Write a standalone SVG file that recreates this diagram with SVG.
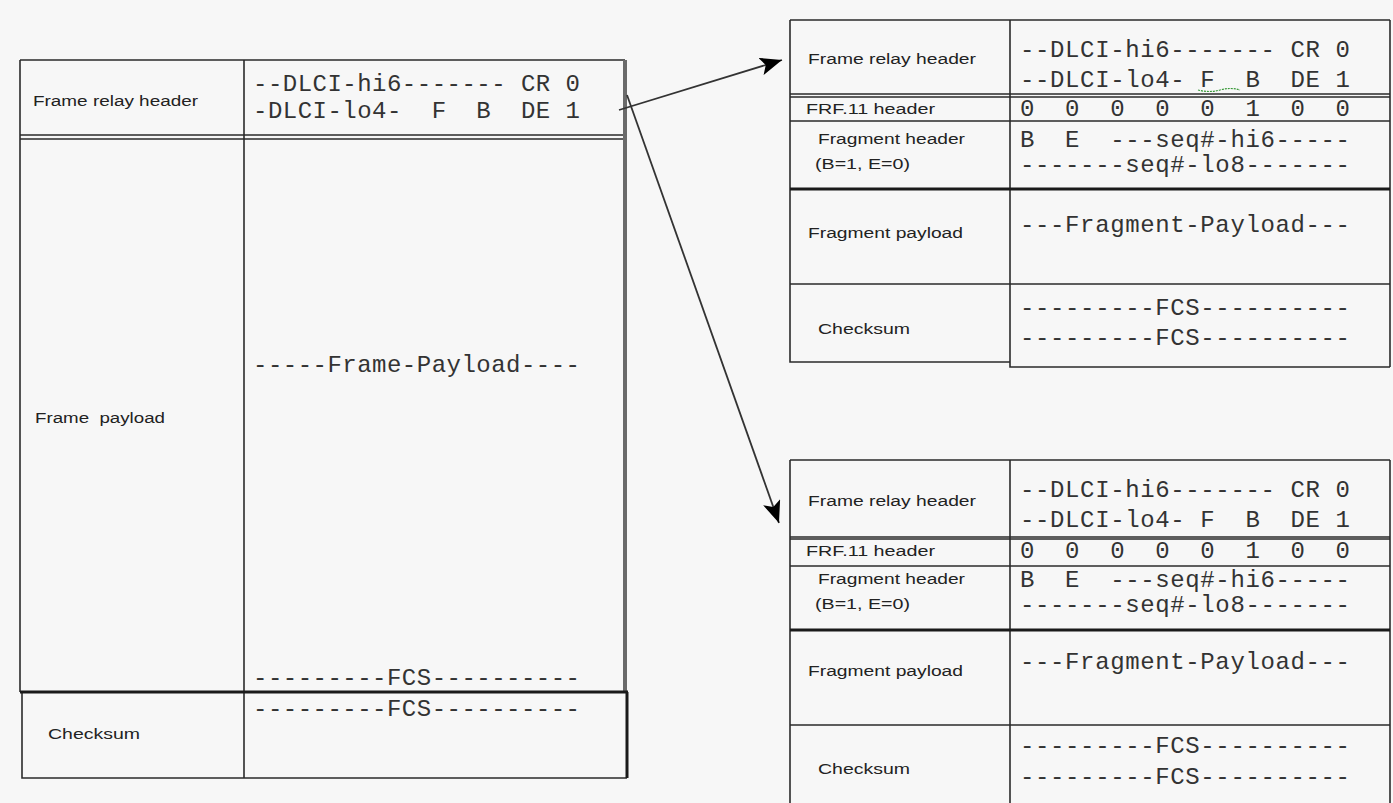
<svg xmlns="http://www.w3.org/2000/svg" width="1393" height="803" viewBox="0 0 1393 803">
<style>
.ln{stroke:#2b2b2b;stroke-width:1.6;fill:none}
.thk{stroke:#1a1a1a;stroke-width:3;fill:none}
.gry{stroke:#6a6a6a;stroke-width:4;fill:none}
.lbl{font-family:"Liberation Sans",Arial,sans-serif;font-size:15.5px;fill:#222}
.mono{font-family:"Liberation Mono","Courier New",monospace;font-size:24px;fill:#333}
.conn{stroke:#333;stroke-width:1.8;fill:none}
</style>
<defs>
<marker id="ah" markerUnits="userSpaceOnUse" markerWidth="24" markerHeight="18" refX="22" refY="9" orient="auto">
<path d="M0,0 L22,9 L0,18 L5,9 Z" fill="#000"/>
</marker>
</defs>
<rect width="1393" height="803" fill="#f7f7f7"/>

<g id="frame">
<path class="ln" d="M20,60 H625 M20,60 V692 M22,692 V778 H627 M244,60 V778 M20,135 H624 M20,139 H624"/>
<path class="gry" d="M625,60 V692"/>
<path class="thk" d="M20,692 H628 M627,692 V778"/>
<text class="lbl" x="33" y="106" textLength="165" lengthAdjust="spacingAndGlyphs">Frame relay header</text>
<text class="mono" x="253" y="91" textLength="327" lengthAdjust="spacing" xml:space="preserve">--DLCI-hi6------- CR 0</text>
<text class="mono" x="253" y="118" textLength="327" lengthAdjust="spacing" xml:space="preserve">-DLCI-lo4-  F  B  DE 1</text>
<text class="mono" x="253" y="372" textLength="327" lengthAdjust="spacing">-----Frame-Payload----</text>
<text class="lbl" x="35" y="423" textLength="130" lengthAdjust="spacingAndGlyphs" xml:space="preserve">Frame  payload</text>
<text class="mono" x="253" y="685" textLength="327" lengthAdjust="spacing">---------FCS----------</text>
<text class="mono" x="253" y="716" textLength="327" lengthAdjust="spacing">---------FCS----------</text>
<text class="lbl" x="48" y="739" textLength="92" lengthAdjust="spacingAndGlyphs">Checksum</text>
</g>

<g id="fragment1">
<path class="ln" d="M790,20 H1390 M790,20 V362 H1010 M1010,20 V367 H1390 M1390,20 V367 M790,94 H1390 M790,97 H1390 M790,121 H1390 M790,284 H1390"/>
<path class="thk" d="M790,189 H1390"/>
<text class="lbl" x="808" y="64" textLength="168" lengthAdjust="spacingAndGlyphs">Frame relay header</text>
<text class="mono" x="1020" y="57" textLength="330" lengthAdjust="spacing" xml:space="preserve">--DLCI-hi6------- CR 0</text>
<text class="mono" x="1020" y="87" textLength="330" lengthAdjust="spacing" xml:space="preserve">--DLCI-lo4- F  B  DE 1</text>
<path d="M1198,90 q11,3 22,0 q11,-3 20,0" stroke="#3a9a3a" stroke-width="1.2" fill="none" stroke-dasharray="2,1"/>
<text class="lbl" x="806" y="114" textLength="129" lengthAdjust="spacingAndGlyphs">FRF.11 header</text>
<text class="mono" x="1020" y="116" textLength="330" lengthAdjust="spacing" xml:space="preserve">0  0  0  0  0  1  0  0</text>
<text class="lbl" x="818" y="144" textLength="147" lengthAdjust="spacingAndGlyphs">Fragment header</text>
<text class="lbl" x="815" y="169" textLength="95" lengthAdjust="spacingAndGlyphs">(B=1, E=0)</text>
<text class="mono" x="1020" y="147" textLength="330" lengthAdjust="spacing" xml:space="preserve">B  E  ---seq#-hi6-----</text>
<text class="mono" x="1020" y="172" textLength="330" lengthAdjust="spacing">-------seq#-lo8-------</text>
<text class="lbl" x="808" y="238" textLength="155" lengthAdjust="spacingAndGlyphs">Fragment payload</text>
<text class="mono" x="1020" y="232" textLength="330" lengthAdjust="spacing">---Fragment-Payload---</text>
<text class="lbl" x="818" y="334" textLength="92" lengthAdjust="spacingAndGlyphs">Checksum</text>
<text class="mono" x="1020" y="315" textLength="330" lengthAdjust="spacing">---------FCS----------</text>
<text class="mono" x="1020" y="345" textLength="330" lengthAdjust="spacing">---------FCS----------</text>
</g>

<g id="fragment2">
<path class="ln" d="M790,460 H1390 M790,460 V803 M1010,460 V803 M1390,460 V803 M790,537 H1390 M790,539 H1390 M790,725 H1390"/>
<path class="ln" d="M790,566 H1390" stroke-width="2.2"/>
<path class="thk" d="M790,630 H1390"/>
<text class="lbl" x="808" y="506" textLength="168" lengthAdjust="spacingAndGlyphs">Frame relay header</text>
<text class="mono" x="1020" y="497" textLength="330" lengthAdjust="spacing" xml:space="preserve">--DLCI-hi6------- CR 0</text>
<text class="mono" x="1020" y="527" textLength="330" lengthAdjust="spacing" xml:space="preserve">--DLCI-lo4- F  B  DE 1</text>
<text class="lbl" x="806" y="556" textLength="129" lengthAdjust="spacingAndGlyphs">FRF.11 header</text>
<text class="mono" x="1020" y="558" textLength="330" lengthAdjust="spacing" xml:space="preserve">0  0  0  0  0  1  0  0</text>
<text class="lbl" x="818" y="584" textLength="147" lengthAdjust="spacingAndGlyphs">Fragment header</text>
<text class="lbl" x="815" y="609" textLength="95" lengthAdjust="spacingAndGlyphs">(B=1, E=0)</text>
<text class="mono" x="1020" y="587" textLength="330" lengthAdjust="spacing" xml:space="preserve">B  E  ---seq#-hi6-----</text>
<text class="mono" x="1020" y="612" textLength="330" lengthAdjust="spacing">-------seq#-lo8-------</text>
<text class="lbl" x="808" y="676" textLength="155" lengthAdjust="spacingAndGlyphs">Fragment payload</text>
<text class="mono" x="1020" y="669" textLength="330" lengthAdjust="spacing">---Fragment-Payload---</text>
<text class="lbl" x="818" y="774" textLength="92" lengthAdjust="spacingAndGlyphs">Checksum</text>
<text class="mono" x="1020" y="753" textLength="330" lengthAdjust="spacing">---------FCS----------</text>
<text class="mono" x="1020" y="784" textLength="330" lengthAdjust="spacing">---------FCS----------</text>
</g>

<g id="connectors">
<line class="conn" x1="619" y1="110" x2="782" y2="60" marker-end="url(#ah)"/>
<line class="conn" x1="627" y1="95" x2="779" y2="523" marker-end="url(#ah)"/>
</g>
</svg>
